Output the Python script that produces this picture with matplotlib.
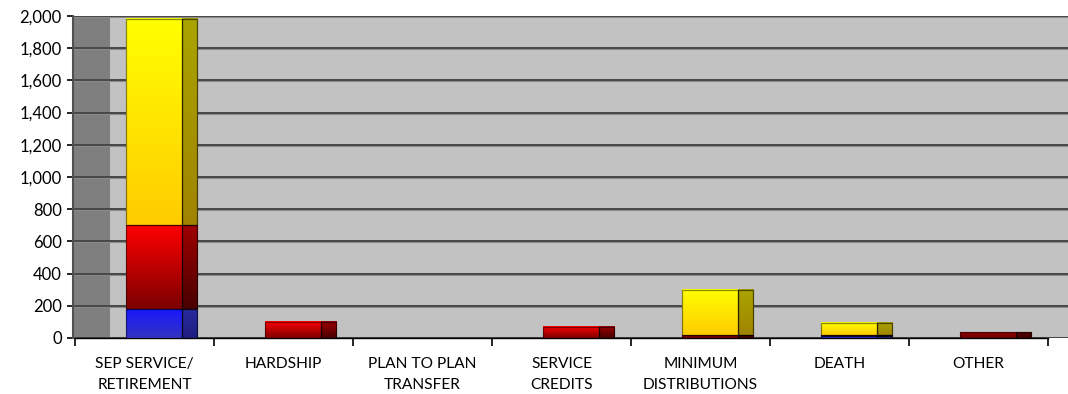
import numpy as np
import matplotlib
matplotlib.use("Agg")
import matplotlib.pyplot as plt
from matplotlib.patches import Rectangle
from matplotlib.colors import to_rgb

# Distribution counts by type, stacked by series
categories = ["SEP SERVICE/\nRETIREMENT", "HARDSHIP", "PLAN TO PLAN\nTRANSFER",
              "SERVICE\nCREDITS", "MINIMUM\nDISTRIBUTIONS", "DEATH", "OTHER"]
series_blue = [180, 0, 0, 0, 0, 10, 0]
series_maroon = [0, 0, 0, 0, 20, 10, 35]
series_red = [520, 100, 0, 70, 0, 0, 0]
series_yellow = [1280, 0, 0, 0, 280, 75, 0]
y_ticks = list(range(0, 2001, 200))

# (front top, front bottom, side top, side bottom)
palette = [
    (series_blue, ("#1818ff", "#3434c0", "#2a2aa0", "#1e1e80")),
    (series_maroon, ("#9a0000", "#640000", "#5a0000", "#3c0000")),
    (series_red, ("#ff0000", "#7c0000", "#a00000", "#480000")),
    (series_yellow, ("#ffff00", "#ffcc00", "#aaa400", "#a08400")),
]

W, H = 1068, 394
fig = plt.figure(figsize=(W / 100, H / 100), dpi=100)
fig.patch.set_facecolor("white")

px_left, px_right, px_top, px_bottom = 73, 1068, 16, 338
ax = fig.add_axes([px_left / W, (H - px_bottom) / H,
                   (px_right - px_left) / W, (px_bottom - px_top) / H])

unit = 139.0  # pixels per category
x0 = -0.5 - (75 - px_left) / unit
x1 = -0.5 + (px_right - 75) / unit
depth = 35 / unit

ax.set_facecolor("#c2c2c2")
# side wall
ax.add_patch(Rectangle((x0, 0), (-0.5 + depth) - x0, 2000, facecolor="#7f7f7f",
                       edgecolor="none", zorder=0.5))

# gridlines
for v in y_ticks:
    ax.plot([x0, x1], [v, v], color="#8a8a8a", lw=2.2, zorder=1, solid_capstyle="butt")
    ax.plot([x0, x1], [v, v], color="#3c3c3c", lw=1.2, zorder=1.1, solid_capstyle="butt")


def gradient_rect(xl, xr, yb, yt, ctop, cbot):
    n = 64
    t = np.linspace(0, 1, n)[:, None]
    a = np.array(to_rgb(cbot))
    b = np.array(to_rgb(ctop))
    img = (a * (1 - t) + b * t)[:, None, :]
    ax.imshow(img, extent=(xl, xr, yb, yt), origin="lower", aspect="auto",
              interpolation="bilinear", zorder=3)


front_l, front_r, side_r = -0.13, 0.27, 0.38
bottoms = np.zeros(len(categories))
for values, (ft, fb, st, sb) in palette:
    for i, v in enumerate(values):
        if v <= 0:
            continue
        yb = bottoms[i]
        yt = yb + v
        gradient_rect(i + front_l, i + front_r, yb, yt, ft, fb)
        gradient_rect(i + front_r, i + side_r, yb, yt, st, sb)
        ax.add_patch(Rectangle((i + front_l, yb), front_r - front_l, v, fill=False,
                               edgecolor=(0, 0, 0, 0.45), lw=0.9, zorder=4))
        ax.add_patch(Rectangle((i + front_r, yb), side_r - front_r, v, fill=False,
                               edgecolor=(0, 0, 0, 0.55), lw=0.9, zorder=4))
    bottoms += np.array(values, dtype=float)

ax.set_xlim(x0, x1)
ax.set_ylim(0, 2000)

for s in ["top", "right"]:
    ax.spines[s].set_visible(False)
ax.spines["left"].set_color("#505050")
ax.spines["left"].set_linewidth(1.5)
ax.spines["bottom"].set_color("#000000")
ax.spines["bottom"].set_linewidth(1.0)
ax.spines["bottom"].set_bounds(-0.5, len(categories) - 0.5)
ax.spines["left"].set_zorder(5)

ax.set_yticks(y_ticks)
ax.set_yticklabels([f"{v:,}" for v in y_ticks])
ax.tick_params(axis="y", length=4, width=1.2, color="black", pad=4,
               labelsize=12)

ax.set_xticks(range(len(categories)))
ax.set_xticklabels(categories, fontsize=11.2, linespacing=1.6)
ax.set_xticks(np.arange(-0.5, len(categories), 1.0), minor=True)
ax.tick_params(axis="x", which="major", length=0, pad=14)
ax.tick_params(axis="x", which="minor", length=6, width=1.2, color="black",
               direction="out")

for lab in ax.get_yticklabels() + ax.get_xticklabels():
    lab.set_family(["Lato", "DejaVu Sans"])

fig.savefig("out.png", dpi=100, facecolor="white")
